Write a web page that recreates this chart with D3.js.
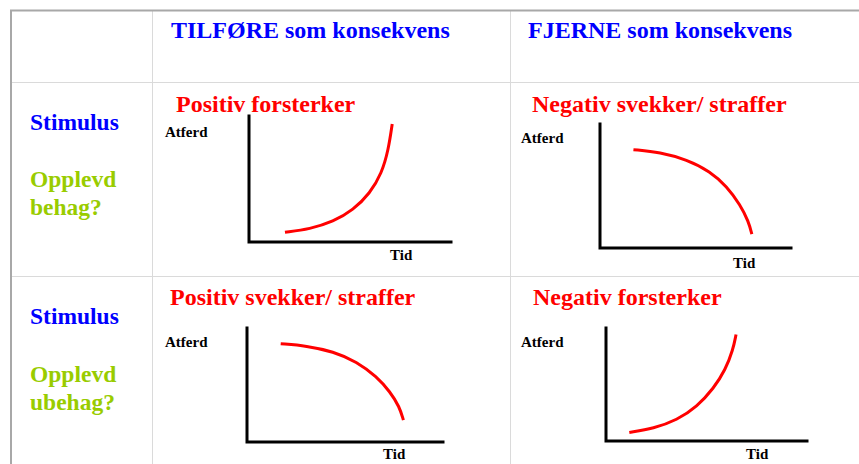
<!DOCTYPE html>
<html>
<head>
<meta charset="utf-8">
<script src="https://d3js.org/d3.v7.min.js"></script>
<style>
  body { margin: 0; background: #fff; }
  text { font-family: "Liberation Serif", "Times New Roman", serif; font-weight: bold; }
</style>
</head>
<body>
<svg width="859" height="464"></svg>
<script>
// headers and row labels
const columns = ["TILFØRE som konsekvens", "FJERNE som konsekvens"];
const stimulus = ["Stimulus", "Stimulus"];
const feelings = [["Opplevd", "behag?"], ["Opplevd", "ubehag?"]];
const titles = ["Positiv forsterker", "Negativ svekker/ straffer",
                "Positiv svekker/ straffer", "Negativ forsterker"];

// curves, in % of each axis (x: Tid, y: Atferd)
const curvePosForst = [[17.8, 7.7], [30.2, 10.3], [41.7, 16.1], [51.6, 25.4],
                       [59.9, 38.7], [65.7, 54.5], [69.0, 73.0], [70.9, 93.7]];
const curveNegSvek  = [[17.5, 79.3], [31.5, 77.2], [45.5, 71.2], [57.7, 61.7],
                       [66.4, 49.6], [73.4, 34.8], [77.8, 21.3], [79.5, 11.1]];
const curvePosSvek  = [[17.2, 86.2], [30.4, 84.4], [44.0, 79.4], [56.0, 70.5],
                       [66.2, 57.3], [73.0, 44.1], [77.8, 30.9], [79.8, 19.2]];
const curveNegForst = [[11.6, 7.5], [23.7, 11.1], [35.3, 18.5], [45.3, 30.4],
                       [53.6, 46.7], [59.4, 63.0], [63.2, 80.8], [64.7, 94.2]];
const curves = [curvePosForst, curveNegSvek, curvePosSvek, curveNegForst];

// layout of the four small plots (pixel boxes of the axes)
const panels = [
  { x0: 249, x1: 451, y0: 242, y1: 116, title: [176, 112], atferd: [165, 137], tid: [390, 260] },
  { x0: 600, x1: 791, y0: 248, y1: 124, title: [532, 112], atferd: [521, 143], tid: [733, 268] },
  { x0: 247, x1: 443, y0: 442, y1: 328, title: [170, 305], atferd: [165, 347], tid: [383, 459] },
  { x0: 606, x1: 807, y0: 441, y1: 328, title: [533, 305], atferd: [521, 347], tid: [746, 459] }
];

const svg = d3.select('svg');

// table grid
const grid = svg.append('g');
[82.5, 276.5].forEach(y =>
  grid.append('line').attr('x1', 11).attr('x2', 859).attr('y1', y).attr('y2', y)
    .attr('stroke', '#dadada').attr('stroke-width', 1));
[152.5, 510.5].forEach(x =>
  grid.append('line').attr('x1', x).attr('x2', x).attr('y1', 10).attr('y2', 464)
    .attr('stroke', '#dadada').attr('stroke-width', 1));
grid.append('path').attr('d', 'M11,464V10.5H859')
  .attr('fill', 'none').attr('stroke', '#a8a8a8').attr('stroke-width', 2);

// column headers
svg.selectAll('text.head').data(columns).join('text')
  .attr('class', 'head')
  .attr('x', (d, i) => [171, 528][i]).attr('y', 38)
  .attr('fill', '#0000ff').attr('font-size', 24)
  .text(d => d);

// row labels
const rowY = [0, 194];
svg.selectAll('text.stim').data(stimulus).join('text')
  .attr('class', 'stim')
  .attr('x', 30).attr('y', (d, i) => 130 + rowY[i])
  .attr('fill', '#0000ff').attr('font-size', 23.5)
  .text(d => d);
feelings.forEach((lines, i) => {
  svg.selectAll(`text.feel${i}`).data(lines).join('text')
    .attr('class', `feel${i}`)
    .attr('x', 30).attr('y', (d, k) => [187, 215][k] + (i ? 195 : 0))
    .attr('fill', '#99cc00').attr('font-size', 23.5)
    .text(d => d);
});

// small plots
panels.forEach((p, i) => {
  const x = d3.scaleLinear().domain([0, 100]).range([p.x0, p.x1]),
    y = d3.scaleLinear().domain([0, 100]).range([p.y0, p.y1]);
  const g = svg.append('g');

  g.append('text').attr('x', p.title[0]).attr('y', p.title[1])
    .attr('fill', '#ff0000').attr('font-size', 24).text(titles[i]);
  g.append('text').attr('x', p.atferd[0]).attr('y', p.atferd[1])
    .attr('fill', '#000').attr('font-size', 15).text('Atferd');
  g.append('text').attr('x', p.tid[0]).attr('y', p.tid[1])
    .attr('fill', '#000').attr('font-size', 15).text('Tid');

  g.append('path')
    .attr('d', `M${x(0)},${y(100)}V${y(0)}H${x(100)}`)
    .attr('fill', 'none').attr('stroke', '#000').attr('stroke-width', 3)
    .attr('stroke-linecap', 'square');

  g.append('path')
    .datum(curves[i])
    .attr('d', d3.line().x(d => x(d[0])).y(d => y(d[1])).curve(d3.curveBasis))
    .attr('fill', 'none').attr('stroke', '#ff0000').attr('stroke-width', 3);
});
</script>
</body>
</html>
